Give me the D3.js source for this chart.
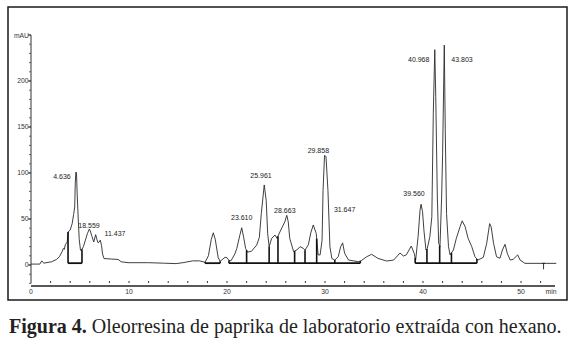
<!DOCTYPE html>
<html><head><meta charset="utf-8">
<script src="https://cdn.jsdelivr.net/npm/d3@7"></script>
<style>body{margin:0;background:#fff} svg{display:block}</style>
</head><body>
<script>
// ---- data (retention time in min, absorbance in mAU) ----
const times = [0.0,0.9,1.1,1.3,2.1,2.6,2.9,3.2,3.3,3.4,3.5,3.7,3.78,4.0,4.2,4.35,4.46,4.52,4.58,4.64,4.72,4.82,4.92,5.05,5.2,5.35,5.55,5.75,5.95,6.05,6.22,6.4,6.6,6.72,6.85,6.95,7.07,7.2,7.3,7.45,8.2,8.9,9.2,9.9,12,13.5,14.8,15.5,16.5,17.2,17.76,18.1,18.4,18.6,18.8,19.1,19.3,19.8,20.0,20.2,20.4,20.8,21.0,21.3,21.5,21.7,21.9,22.1,22.5,23.03,23.3,23.5,23.8,24.0,24.15,24.3,24.56,24.9,25.1,25.4,25.9,26.1,26.25,26.4,26.8,27.2,27.45,27.8,27.96,28.3,28.55,28.8,29.1,29.3,29.5,29.7,29.8,29.95,30.1,30.3,30.5,30.7,31.0,31.35,31.6,31.8,32.0,32.4,33.4,33.7,34.25,34.76,35.4,36.3,37.0,37.65,38.0,38.3,38.8,39.1,39.25,39.5,39.7,39.8,39.95,40.1,40.3,40.44,40.7,40.9,41.05,41.2,41.3,41.46,41.6,41.73,41.9,42.0,42.17,42.27,42.4,42.6,42.76,43.1,43.4,43.78,44.0,44.3,44.6,44.97,45.3,45.6,46.15,46.5,46.8,46.95,47.2,47.5,47.85,48.1,48.37,48.6,48.9,49.2,49.66,49.9,50.4,53.6];
const absorbance = [1,1,4.5,2,3.5,6,9,15,18,17,22,25,36,38,45,55,63,90,101,100,75,50,28,16,17,20,27,34,39,37,31,25,33,28,24,25,27,21,12,7,6.5,6,3.5,2.5,2.5,2,1.5,2.5,4.5,4.5,3,10,28,35,28,8,4,8.4,8,5,4.5,12,18,32,40.5,30,18,14,15,21.7,30,56,87,70,34,20,29,32.6,29,36,47,54,47,29,14.5,17,20,18,16,22,35,43.5,34.5,11,11,27,81,119,118,81,20,7,5.4,9,20,24,12.7,5.4,3.6,4.7,9,11.6,7.2,4.3,5.4,13,9.8,11,20.6,12.7,5.4,31,60,66,58,37,16.3,18,31,52.5,165,234,183,74,23.6,20,74,121,239,147,56,20,11,16.3,29,41.6,48,41.6,29,20,9,5.4,8.3,23.6,45,41.6,23.6,9,7.3,16.3,22.5,12.7,5.4,6.2,11,5.4,1.8,1.8];

const peakLabels = ["4.636","18.559","11.437","23.610","25.961","28.663","29.858","31.647","39.560","40.968","43.803"];
const peakLabelTimes = [3.16,5.92,8.57,21.5,23.47,25.9,29.32,32.0,39.08,39.56,43.98];
const peakLabelValues = [94,40.4,31.7,48.7,95,57,122,58,74.5,221,221];

const integrationSegments = [[3.78,5.2],[17.76,19.3],[20.2,33.6],[39.2,45.5]];
const dropTimes = [3.78,5.2,17.76,19.3,20.2,22.0,24.3,25.2,26.9,27.96,29.15,31.0,33.6,39.2,40.4,41.7,42.9,45.5];
const eventMarks = [52.3];

const xTickLabels = [0,10,20,30,40,50];
const xMinorTicks = d3.range(0,54,2);
const yTickLabels = [0,50,100,150,200];
const yMinorTicks = d3.range(-20,251,10);
const xUnit = "min";
const yUnit = "mAU";
const captionBold = "Figura 4.";
const captionText = " Oleorresina de paprika de laboratorio extraída con hexano.";

// ---- drawing ----
const W = 579, H = 346;
const svg = d3.select("body").append("svg").attr("width", W).attr("height", H);

svg.append("rect").attr("x",8).attr("y",7).attr("width",559).attr("height",293)
  .attr("fill","none").attr("stroke","#1a1a1a").attr("stroke-width",1.5);

const x = d3.scaleLinear().domain([0,53.6]).range([31,556.3]);
const y = d3.scaleLinear().domain([-20,250]).range([283.4,35]);

const sans = "'Liberation Sans', Arial, sans-serif";

// y axis
svg.append("line").attr("x1",31).attr("x2",31).attr("y1",y(250)).attr("y2",y(-20))
  .attr("stroke","#333").attr("stroke-width",1);
svg.selectAll(".ymin").data(yMinorTicks).enter().append("line")
  .attr("x1",29).attr("x2",31).attr("y1",d=>y(d)).attr("y2",d=>y(d))
  .attr("stroke","#444").attr("stroke-width",0.8);
svg.selectAll(".ymaj").data(yTickLabels).enter().append("line")
  .attr("x1",28).attr("x2",31).attr("y1",d=>y(d)).attr("y2",d=>y(d))
  .attr("stroke","#333").attr("stroke-width",1);
svg.selectAll(".ylab").data(yTickLabels).enter().append("text")
  .attr("x",28.5).attr("y",d=>y(d)+2.4).attr("text-anchor","end")
  .attr("font-family",sans).attr("font-size",6.8).attr("fill","#333").text(d=>d);
svg.append("text").attr("x",29).attr("y",y(250)+3).attr("text-anchor","end")
  .attr("font-family",sans).attr("font-size",6.8).attr("fill","#333").text(yUnit);
svg.append("line").attr("x1",28).attr("x2",31).attr("y1",y(250)).attr("y2",y(250))
  .attr("stroke","#333").attr("stroke-width",1);

// x axis
svg.append("line").attr("x1",31).attr("x2",555).attr("y1",286).attr("y2",286)
  .attr("stroke","#222").attr("stroke-width",1.4);
svg.selectAll(".xmin").data(xMinorTicks.filter(d=>d>0)).enter().append("line")
  .attr("x1",d=>x(d)).attr("x2",d=>x(d)).attr("y1",281).attr("y2",283)
  .attr("stroke","#333").attr("stroke-width",1);
svg.selectAll(".xlab").data(xTickLabels).enter().append("text")
  .attr("x",d=>x(d)).attr("y",294).attr("text-anchor","middle")
  .attr("font-family",sans).attr("font-size",6.8).attr("fill","#333").text(d=>d);
svg.append("text").attr("x",551).attr("y",294).attr("text-anchor","middle")
  .attr("font-family",sans).attr("font-size",6.8).attr("fill","#333").text(xUnit);

// trace
const pts = times.map((t,i)=>[t,absorbance[i]]);
const line = d3.line().x(d=>x(d[0])).y(d=>y(d[1]));
svg.append("path").attr("d",line(pts)).attr("fill","none")
  .attr("stroke","#2a2a2a").attr("stroke-width",0.9).attr("stroke-linejoin","round");

// integration baselines and drop lines
const bis = d3.bisector(d=>d).left;
function valueAt(t){
  const i = Math.max(1, Math.min(times.length-1, bis(times,t)));
  const t0=times[i-1], t1=times[i];
  return d3.interpolateNumber(absorbance[i-1],absorbance[i])((t-t0)/(t1-t0));
}
const baseV = 2;
svg.selectAll(".seg").data(integrationSegments).enter().append("line")
  .attr("x1",d=>x(d[0])).attr("x2",d=>x(d[1])).attr("y1",y(baseV)).attr("y2",y(baseV))
  .attr("stroke","#111").attr("stroke-width",1.8);
svg.selectAll(".drop").data(dropTimes).enter().append("line")
  .attr("x1",d=>x(d)).attr("x2",d=>x(d)).attr("y1",y(baseV)).attr("y2",d=>y(valueAt(d)))
  .attr("stroke","#111").attr("stroke-width",1.6);
svg.selectAll(".ev").data(eventMarks).enter().append("path")
  .attr("d",d=>`M${x(d)-1.5},${y(valueAt(d))}H${x(d)+1.5}M${x(d)},${y(valueAt(d))}V${y(valueAt(d))+6}`)
  .attr("stroke","#222").attr("stroke-width",0.9).attr("fill","none");

// peak labels
svg.selectAll(".pl").data(peakLabels).enter().append("text")
  .attr("x",(d,i)=>x(peakLabelTimes[i])).attr("y",(d,i)=>y(peakLabelValues[i]))
  .attr("text-anchor","middle").attr("font-family",sans).attr("font-size",7)
  .attr("fill","#222").text(d=>d);

// caption
const cap = svg.append("text").attr("x",9).attr("y",333)
  .attr("font-family","'Liberation Serif','Times New Roman',serif").attr("font-size",17).attr("fill","#222");
cap.append("tspan").attr("font-weight","bold").text(captionBold);
cap.append("tspan").text(captionText);
const wcap = cap.node().getComputedTextLength();
cap.attr("font-size", 17*553/wcap);
</script>
</body></html>
